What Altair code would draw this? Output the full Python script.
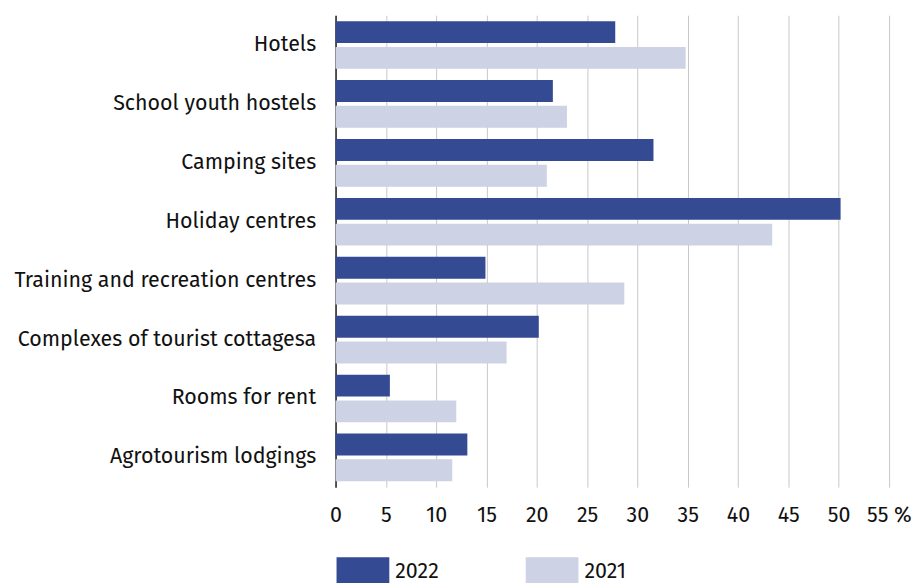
import altair as alt
import pandas as pd

categories = [
    "Hotels",
    "School youth hostels",
    "Camping sites\u2005",
    "Holiday centres",
    "Training and recreation centres",
    "Complexes of tourist cottagesa",
    "Rooms for rent",
    "Agrotourism lodgings",
]
years = ["2022", "2021"]
values_2022 = [27.8, 21.6, 31.6, 50.2, 14.9, 20.2, 5.4, 13.1]
values_2021 = [34.8, 23.0, 21.0, 43.4, 28.7, 17.0, 12.0, 11.6]
x_ticks = [0, 5, 10, 15, 20, 25, 30, 35, 40, 45, 50, 55]
colors = ["#344a93", "#cdd2e5"]

rows = []
for c, v22, v21 in zip(categories, values_2022, values_2021):
    rows.append({"category": c, "year": "2022", "value": v22})
    rows.append({"category": c, "year": "2021", "value": v21})
df = pd.DataFrame(rows)

FONT = "Fira Sans, Noto Sans, sans-serif"
FS = 21.5

chart = (
    alt.Chart(df)
    .mark_bar()
    .encode(
        x=alt.X(
            "value:Q",
            scale=alt.Scale(domain=[0, 57], nice=False, zero=True),
            axis=alt.Axis(
                values=x_ticks,
                title=None,
                domain=False,
                ticks=False,
                grid=True,
                gridColor="#c8c8c8",
                gridWidth=1,
                labelFontSize=FS,
                labelFont=FONT,
                labelColor="#111111",
                labelPadding=17,
                labelFlush=False,
                labelOverlap=False,
                labelExpr="datum.value == 55 ? '55 %' : datum.label",
            ),
        ),
        y=alt.Y(
            "category:N",
            sort=categories,
            scale=alt.Scale(paddingInner=0.19, paddingOuter=0.1),
            axis=alt.Axis(
                title=None,
                ticks=False,
                domain=True,
                domainColor="#222222",
                domainWidth=1.5,
                labelFontSize=FS,
                labelFont=FONT,
                labelColor="#111111",
                labelPadding=20,
                labelLimit=500,
            ),
        ),
        yOffset=alt.YOffset("year:N", sort=years, scale=alt.Scale(paddingInner=0.15)),
        color=alt.Color(
            "year:N",
            sort=years,
            scale=alt.Scale(domain=years, range=colors),
            legend=alt.Legend(
                title=None,
                orient="none",
                legendX=1,
                legendY=532,
                direction="horizontal",
                symbolType="M-1,-0.55H1V0.55H-1Z",
                symbolSize=2809,
                symbolStrokeWidth=0,
                labelFontSize=FS,
                labelFont=FONT,
                labelColor="#111111",
                labelOffset=6,
                columnPadding=87,
            ),
        ),
    )
    .properties(width=576, height=474, padding={"left": 5, "top": 6, "right": 0, "bottom": 0})
    .configure_view(stroke=None)
)

chart.save("out.html", embed_options={"renderer": "svg", "actions": False})
